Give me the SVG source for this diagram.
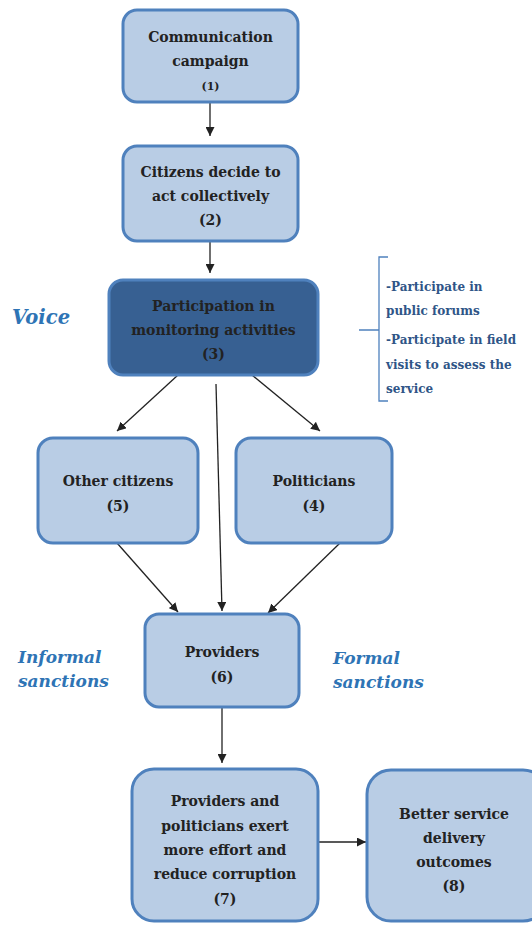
<svg xmlns="http://www.w3.org/2000/svg" width="532" height="926" viewBox="0 0 532 926">
<defs>
<marker id="ah" viewBox="0 0 10 10" refX="10" refY="5" markerWidth="9" markerHeight="9" markerUnits="userSpaceOnUse" orient="auto"><path d="M0,0 L10,5 L0,10 z" fill="#222"/></marker>
<style>
.n{fill:#b9cde5;stroke:#4f81bd;stroke-width:3}
.d{fill:#376092;stroke:#4f81bd;stroke-width:3}
.t{font-family:"DejaVu Serif","Liberation Serif",serif;font-weight:bold;font-size:14px;fill:#222;text-anchor:middle}
.s{font-size:11px}
.c{stroke:#222;stroke-width:1.3;fill:none;marker-end:url(#ah)}
.lb{font-family:"DejaVu Serif","Liberation Serif",serif;font-weight:bold;font-style:italic;fill:#2e74b5}
.b{font-family:"DejaVu Serif","Liberation Serif",serif;font-weight:bold;font-size:12px;fill:#2f5587}
</style>
</defs>
<rect width="532" height="926" fill="#fff"/>
<g id="connectors">
<line class="c" x1="210" y1="103" x2="210" y2="136"/>
<line class="c" x1="210" y1="242" x2="210" y2="273"/>
<line class="c" x1="178" y1="375" x2="117" y2="431"/>
<line class="c" x1="252" y1="375" x2="320" y2="431"/>
<line class="c" x1="216" y1="384" x2="222" y2="611"/>
<line class="c" x1="117" y1="543" x2="178" y2="612"/>
<line class="c" x1="340" y1="543" x2="268" y2="613"/>
<line class="c" x1="222" y1="708" x2="222" y2="763"/>
<line class="c" x1="318" y1="842" x2="366" y2="842"/>
</g>
<g id="n1"><rect class="n" x="123" y="10" width="175" height="92" rx="14"/>
<text class="t" x="210.5" y="42">Communication</text><text class="t" x="210.5" y="66">campaign</text><text class="t s" x="210.5" y="90">(1)</text></g>
<g id="n2"><rect class="n" x="123" y="146" width="175" height="95" rx="14"/>
<text class="t" x="210.5" y="177">Citizens decide to</text><text class="t" x="210.5" y="201">act collectively</text><text class="t" x="210.5" y="225">(2)</text></g>
<g id="n3"><rect class="d" x="109" y="280" width="209" height="95" rx="14"/>
<text class="t" x="213.5" y="311">Participation in</text><text class="t" x="213.5" y="335">monitoring activities</text><text class="t" x="213.5" y="359">(3)</text></g>
<g id="n5"><rect class="n" x="38" y="438" width="160" height="105" rx="15"/>
<text class="t" x="118" y="486">Other citizens</text><text class="t" x="118" y="511">(5)</text></g>
<g id="n4"><rect class="n" x="236" y="438" width="156" height="105" rx="15"/>
<text class="t" x="314" y="486">Politicians</text><text class="t" x="314" y="511">(4)</text></g>
<g id="n6"><rect class="n" x="145" y="614" width="154" height="93" rx="14"/>
<text class="t" x="222" y="657">Providers</text><text class="t" x="222" y="682">(6)</text></g>
<g id="n7"><rect class="n" x="132" y="769" width="186" height="152" rx="22"/>
<text class="t" x="225" y="806">Providers and</text><text class="t" x="225" y="831">politicians exert</text><text class="t" x="225" y="855">more effort and</text><text class="t" x="225" y="879">reduce corruption</text><text class="t" x="225" y="904">(7)</text></g>
<g id="n8"><rect class="n" x="367" y="770" width="180" height="151" rx="24"/>
<text class="t" x="454" y="819">Better service</text><text class="t" x="454" y="843">delivery</text><text class="t" x="454" y="867">outcomes</text><text class="t" x="454" y="891">(8)</text></g>
<g id="labels">
<text class="lb" x="12" y="324" font-size="19.5">Voice</text>
<text class="lb" x="18" y="663" font-size="17">Informal</text>
<text class="lb" x="18" y="687" font-size="17">sanctions</text>
<text class="lb" x="333" y="664" font-size="17">Formal</text>
<text class="lb" x="333" y="688" font-size="17">sanctions</text>
</g>
<g id="bracket">
<path d="M388,257 H379 V401 H388 M379,330 H359" stroke="#4f81bd" stroke-width="1.3" fill="none"/>
<text class="b" x="386" y="291">-Participate in</text>
<text class="b" x="386" y="315">public forums</text>
<text class="b" x="386" y="344">-Participate in field</text>
<text class="b" x="386" y="369">visits to assess the</text>
<text class="b" x="386" y="393">service</text>
</g>
</svg>
